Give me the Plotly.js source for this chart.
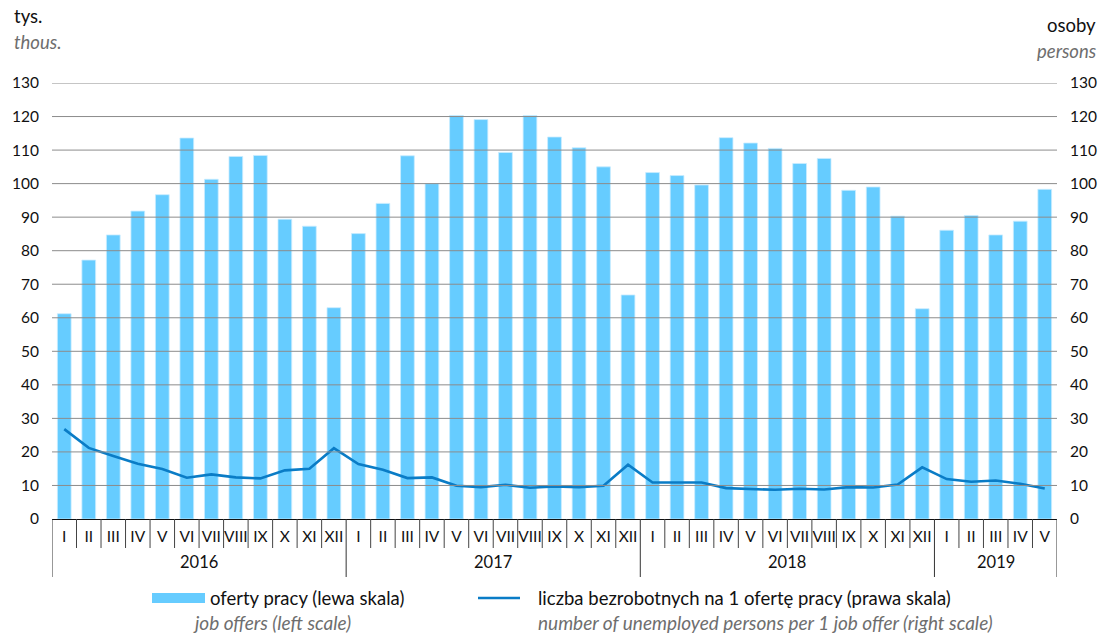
<!DOCTYPE html>
<html>
<head>
<meta charset="utf-8">
<script src="https://cdn.plot.ly/plotly-3.0.1.min.js"></script>
<style>html,body{margin:0;padding:0;background:#fff;}#chart{width:1109px;height:634px;}</style>
</head>
<body>
<div id="chart"></div>
<script>
// ---- data ----
const years = ["2016","2017","2018","2019"];
const monthsPerYear = [12, 12, 12, 5];
const monthLabels = ["I","II","III","IV","V","VI","VII","VIII","IX","X","XI","XII"];
const jobOffers = [61.2, 77.2, 84.7, 91.8, 96.7, 113.6, 101.3, 108.1, 108.4, 89.4, 87.3, 63.0,
  85.1, 94.1, 108.3, 100.0, 120.3, 119.1, 109.3, 120.3, 113.9, 110.7, 105.0, 66.8,
  103.3, 102.4, 99.6, 113.7, 112.1, 110.5, 106.0, 107.5, 98.0, 99.0, 90.3, 62.7,
  86.1, 90.5, 84.7, 88.8, 98.3];
const unemployedPerOffer = [26.8, 21.2, 18.8, 16.5, 14.9, 12.3, 13.3, 12.4, 12.1, 14.5, 15.0, 21.1,
  16.4, 14.7, 12.2, 12.4, 9.9, 9.5, 10.2, 9.3, 9.7, 9.5, 9.9, 16.2,
  10.9, 10.9, 10.9, 9.2, 8.9, 8.7, 9.0, 8.8, 9.5, 9.4, 10.3, 15.4,
  11.9, 11.1, 11.5, 10.5, 9.1];
const yTicks = [0,10,20,30,40,50,60,70,80,90,100,110,120,130];
const seriesNames = ["oferty pracy (lewa skala)", "liczba bezrobotnych na 1 ofertę pracy (prawa skala)"];
const seriesNamesEn = ["job offers (left scale)", "number of unemployed persons per 1 job offer (right scale)"];
const leftUnit = ["tys.", "thous."];
const rightUnit = ["osoby", "persons"];

// ---- build categories ----
const cats = [], catMonths = [], yearStart = [];
let idx = 0;
years.forEach((y, yi) => {
  yearStart.push(idx);
  for (let m = 0; m < monthsPerYear[yi]; m++) {
    cats.push(y + "-" + monthLabels[m]);
    catMonths.push(monthLabels[m]);
    idx++;
  }
});
const N = cats.length;

const W = 1109, H = 634;
const M = {l: 52, r: 52, t: 83, b: 115};
const plotW = W - M.l - M.r, plotH = H - M.t - M.b;
const px2x = p => (p - M.l) / plotW;
const px2y = p => (H - M.b - p) / plotH;

const FONT = "Lato, 'Open Sans', sans-serif";
const BAR = "#66ccff";
const LINE = "#0a7cc6";
const GRAY = "#6e6e6e";
const TXT = "#111";

const traces = [
  {type: "bar", x: cats, y: jobOffers, name: seriesNames[0], yaxis: "y",
   marker: {color: BAR, line: {color: "#c9ecff", width: 0.8}}, hoverinfo: "y"},
  {type: "scatter", mode: "lines", x: cats, y: unemployedPerOffer, name: seriesNames[1], yaxis: "y2",
   line: {color: LINE, width: 2.6}, hoverinfo: "y"}
];

const shapes = [];
// gridlines above bars
yTicks.filter(v => v > 0).forEach(v => shapes.push({
  type: "line", layer: "above", xref: "paper", yref: "y", x0: 0, x1: 1, y0: v, y1: v,
  line: {color: "#8c8c8c", width: 1}
}));
// month separators & year separators
for (let b = 0; b <= N; b++) {
  const isYear = yearStart.includes(b) || b === N;
  shapes.push({
    type: "line", layer: "above", xref: "x", yref: "paper", ysizemode: "pixel", yanchor: 0,
    x0: b - 0.5, x1: b - 0.5, y0: 0, y1: isYear ? -58 : -29,
    line: {color: isYear ? "#333" : "#444", width: 1}
  });
}
// legend swatches
shapes.push({type: "rect", xref: "paper", yref: "paper", x0: px2x(152), x1: px2x(205),
  y0: px2y(603), y1: px2y(593), fillcolor: BAR, line: {width: 0}});
shapes.push({type: "line", xref: "paper", yref: "paper", x0: px2x(478), x1: px2x(520),
  y0: px2y(598), y1: px2y(598), line: {color: LINE, width: 2.6}});

const annotations = [];
function note(text, xpx, ypx, anchor, size, color) {
  annotations.push({text: text, xref: "paper", yref: "paper", x: px2x(xpx), y: px2y(ypx),
    xanchor: anchor, yanchor: "middle", showarrow: false, font: {family: FONT, size: size, color: color}});
}
// year labels
years.forEach((y, yi) => {
  const center = yearStart[yi] + (monthsPerYear[yi] - 1) / 2;
  annotations.push({text: y, xref: "x", yref: "paper", x: center, y: 0, yanchor: "middle",
    yshift: -43, showarrow: false, font: {family: FONT, size: 16.5, color: TXT}});
});
// unit labels
note(leftUnit[0], 12, 16, "left", 18.5, TXT);
note("<i>" + leftUnit[1] + "</i>", 12, 42, "left", 18.5, GRAY);
note(rightUnit[0], 1098, 25, "right", 18.5, TXT);
note("<i>" + rightUnit[1] + "</i>", 1098, 51, "right", 18.5, GRAY);
// legend text
note(seriesNames[0], 208, 598, "left", 18.5, TXT);
note("<i>" + seriesNamesEn[0] + "</i>", 191, 622, "left", 19, GRAY);
note(seriesNames[1], 536, 598, "left", 18.5, TXT);
note("<i>" + seriesNamesEn[1] + "</i>", 536, 622, "left", 19, GRAY);

const yaxisCommon = {
  range: [0, 130], tickvals: yTicks, ticktext: yTicks.map(String), showgrid: false, zeroline: false,
  showline: false, ticks: "", ticklabelstandoff: 12, tickfont: {family: FONT, size: 15.5, color: TXT},
  fixedrange: true
};

const layout = {
  width: W, height: H, margin: M, paper_bgcolor: "#fff", plot_bgcolor: "#fff",
  showlegend: false, bargap: 0.44, font: {family: FONT},
  xaxis: {type: "category", tickvals: cats, ticktext: catMonths, range: [-0.5, N - 0.5],
    showgrid: false, zeroline: false, showline: true, linecolor: "#111", linewidth: 1,
    ticks: "", ticklabelstandoff: 3, tickangle: 0, tickfont: {family: FONT, size: 15.5, color: TXT}, fixedrange: true},
  yaxis: Object.assign({}, yaxisCommon, {side: "left"}),
  yaxis2: Object.assign({}, yaxisCommon, {side: "right", overlaying: "y"}),
  shapes: shapes, annotations: annotations
};

Plotly.newPlot("chart", traces, layout, {displayModeBar: false, staticPlot: true});
</script>
</body>
</html>
